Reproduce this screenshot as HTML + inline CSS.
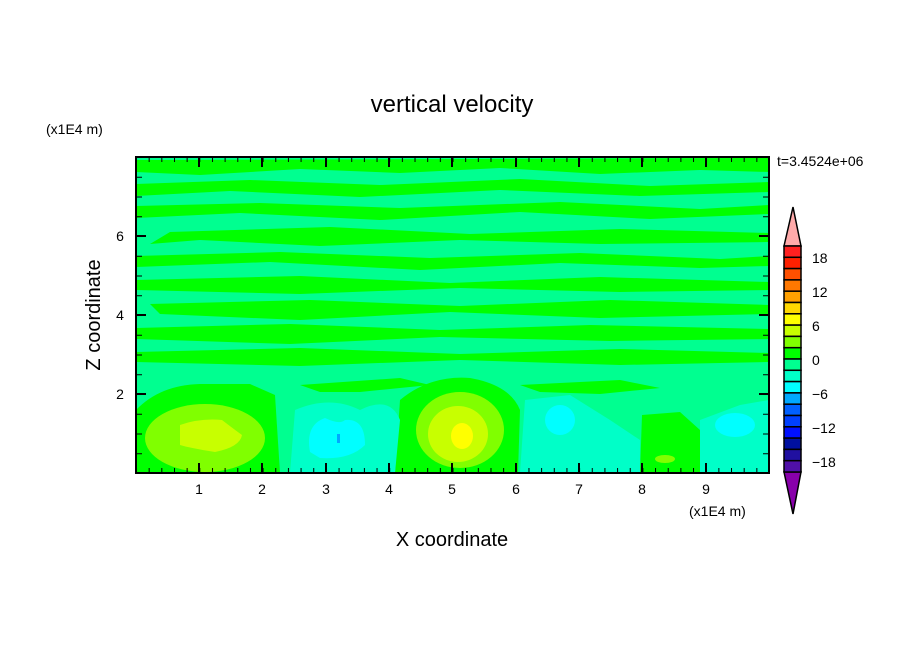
<!DOCTYPE html>
<html><head><style>body{margin:0;background:#fff}</style></head><body>
<svg width="904" height="654" viewBox="0 0 904 654" xmlns="http://www.w3.org/2000/svg" font-family="Liberation Sans, sans-serif">
<defs>
<pattern id="tx" x="136" y="0" width="12.66" height="654" patternUnits="userSpaceOnUse"><rect x="-0.5" y="0" width="1.5" height="654" fill="#000"/></pattern>
<pattern id="ty" x="0" y="157" width="904" height="19.75" patternUnits="userSpaceOnUse"><rect x="0" y="-0.5" width="904" height="1.5" fill="#000"/></pattern>
<clipPath id="c"><rect x="136" y="157" width="633" height="316"/></clipPath>
</defs>
<text x="452" y="112" font-size="24" text-anchor="middle">vertical velocity</text>
<text x="46" y="134" font-size="14">(x1E4 m)</text>
<text x="777" y="166" font-size="14">t=3.4524e+06</text>
<g clip-path="url(#c)">
<rect x="136" y="157" width="633" height="316" fill="#00ff90"/>
<g fill="#00ff00">
<path d="M136,160 L769,158 L769,172 L700,170 L600,174 L500,168 L400,173 L300,169 L200,175 L136,172Z"/>
<path d="M136,184 L250,180 L380,185 L520,179 L650,186 L769,182 L769,192 L640,196 L500,190 L360,197 L230,191 L136,196Z"/>
<path d="M136,206 L260,203 L400,208 L560,202 L700,209 L769,205 L769,214 L650,219 L520,212 L380,220 L240,213 L136,218Z"/>
<path d="M170,232 L330,227 L470,234 L620,229 L769,233 L769,242 L600,244 L460,240 L320,246 L200,240 L150,244Z"/>
<path d="M136,256 L280,252 L430,258 L580,253 L720,259 L769,256 L769,266 L700,268 L560,263 L420,270 L270,262 L136,267Z"/>
<path d="M136,280 L300,276 L450,283 L600,277 L769,282 L769,290 L620,292 L460,288 L300,294 L136,290Z"/>
<path d="M150,304 L310,300 L460,306 L610,300 L769,305 L769,314 L600,318 L450,312 L300,320 L160,314Z"/>
<path d="M136,328 L290,324 L440,330 L590,325 L769,329 L769,339 L610,341 L440,337 L290,344 L136,339Z"/>
<path d="M136,352 L300,348 L460,354 L620,349 L769,353 L769,362 L620,365 L460,360 L300,366 L136,362Z"/>
<path d="M136,472 L136,410 Q160,385 200,384 L250,384 L275,395 L280,473Z"/>
<path d="M395,473 L400,400 Q430,375 470,378 Q510,385 520,410 L518,473Z"/>
<path d="M640,473 L642,415 L680,412 L700,430 L700,473Z"/>
<path d="M300,385 L400,378 L430,385 L360,392 L320,392Z"/>
<path d="M520,385 L620,380 L660,388 L600,394 L540,392Z"/>
</g>
<g fill="#00ffc8">
<path d="M290,473 L295,410 Q330,395 360,410 Q390,395 400,420 L395,473Z"/>
<path d="M520,473 L525,400 L570,395 L610,420 L640,440 L640,473Z"/>
<path d="M700,473 L700,420 L740,405 L769,400 L769,473Z"/>
</g>
<g fill="#00ffff">
<path d="M310,452 Q305,425 325,418 Q340,425 345,420 Q365,418 365,445 Q350,460 320,458Z"/>
<ellipse cx="560" cy="420" rx="15" ry="15"/>
<ellipse cx="735" cy="425" rx="20" ry="12"/>
</g>
<rect x="337" y="434" width="3" height="9" fill="#00a8ff"/>
<ellipse cx="205" cy="438" rx="60" ry="34" fill="#80ff00"/>
<path d="M180,425 Q200,418 222,420 Q235,430 242,435 Q240,447 215,452 Q190,448 180,445Z" fill="#c8ff00"/>
<ellipse cx="460" cy="430" rx="44" ry="38" fill="#80ff00"/>
<ellipse cx="458" cy="434" rx="30" ry="28" fill="#c8ff00"/>
<ellipse cx="462" cy="436" rx="11" ry="13" fill="#ffff00"/>
<ellipse cx="665" cy="459" rx="10" ry="4" fill="#80ff00"/>
</g>
<!-- ticks -->
<rect x="136" y="468" width="633" height="5" fill="url(#tx)"/>
<rect x="136" y="157" width="633" height="5" fill="url(#tx)"/>
<rect x="136" y="157" width="6" height="316" fill="url(#ty)"/>
<rect x="763" y="157" width="6" height="316" fill="url(#ty)"/>
<g stroke="#000" stroke-width="2">
<path d="M199,473v-10M262,473v-10M326,473v-10M389,473v-10M452,473v-10M516,473v-10M579,473v-10M642,473v-10M706,473v-10"/>
<path d="M199,157v10M262,157v10M326,157v10M389,157v10M452,157v10M516,157v10M579,157v10M642,157v10M706,157v10"/>
<path d="M136,394h10M136,315h10M136,236h10M769,394h-10M769,315h-10M769,236h-10"/>
</g>
<rect x="136" y="157" width="633" height="316" fill="none" stroke="#000" stroke-width="2"/>
<g font-size="14" text-anchor="middle">
<text x="199" y="494">1</text><text x="262" y="494">2</text><text x="326" y="494">3</text><text x="389" y="494">4</text><text x="452" y="494">5</text><text x="516" y="494">6</text><text x="579" y="494">7</text><text x="642" y="494">8</text><text x="706" y="494">9</text>
<text x="120" y="399">2</text><text x="120" y="320">4</text><text x="120" y="241">6</text>
</g>
<text x="689" y="516" font-size="14">(x1E4 m)</text>
<text x="452" y="546" font-size="20" text-anchor="middle">X coordinate</text>
<text transform="translate(100,315) rotate(-90)" font-size="20" text-anchor="middle">Z coordinate</text>
<!-- colorbar -->
<g stroke="#000" stroke-width="1.5">
<path d="M784,246 L793,207 L801,246Z" fill="#ffaaaa"/>
<path d="M784,472 L793,514 L801,472Z" fill="#8800aa"/>
<rect x="784" y="246" width="17" height="11.3" fill="#ff2020"/>
<rect x="784" y="257.3" width="17" height="11.3" fill="#ff2000"/>
<rect x="784" y="268.6" width="17" height="11.3" fill="#ff5000"/>
<rect x="784" y="279.9" width="17" height="11.3" fill="#ff7800"/>
<rect x="784" y="291.2" width="17" height="11.3" fill="#ffa000"/>
<rect x="784" y="302.5" width="17" height="11.3" fill="#ffd800"/>
<rect x="784" y="313.8" width="17" height="11.3" fill="#ffff00"/>
<rect x="784" y="325.1" width="17" height="11.3" fill="#c8ff00"/>
<rect x="784" y="336.4" width="17" height="11.3" fill="#80ff00"/>
<rect x="784" y="347.7" width="17" height="11.3" fill="#00ff00"/>
<rect x="784" y="359" width="17" height="11.3" fill="#00ff90"/>
<rect x="784" y="370.3" width="17" height="11.3" fill="#00ffc8"/>
<rect x="784" y="381.6" width="17" height="11.3" fill="#00ffff"/>
<rect x="784" y="392.9" width="17" height="11.3" fill="#00a8ff"/>
<rect x="784" y="404.2" width="17" height="11.3" fill="#0060ff"/>
<rect x="784" y="415.5" width="17" height="11.3" fill="#0040ff"/>
<rect x="784" y="426.8" width="17" height="11.3" fill="#0010ff"/>
<rect x="784" y="438.1" width="17" height="11.3" fill="#0010a0"/>
<rect x="784" y="449.4" width="17" height="11.3" fill="#2010a0"/>
<rect x="784" y="460.7" width="17" height="11.3" fill="#5010a8"/>
</g>
<g font-size="14">
<text x="812" y="263">18</text><text x="812" y="297">12</text><text x="812" y="331">6</text><text x="812" y="365">0</text><text x="812" y="399">−6</text><text x="812" y="433">−12</text><text x="812" y="467">−18</text>
</g>
</svg>
</body></html>
